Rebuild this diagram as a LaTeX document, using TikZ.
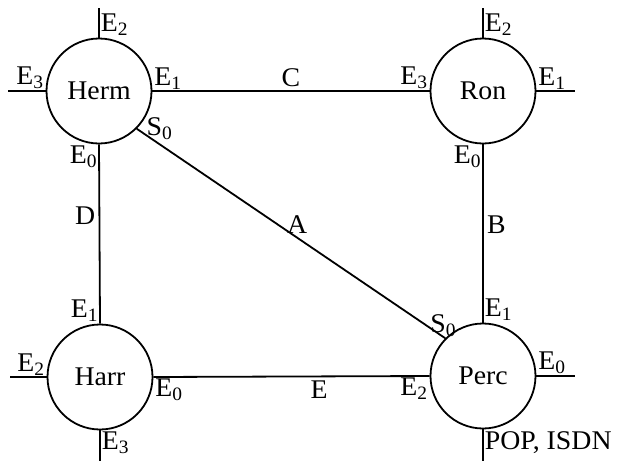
\documentclass[tikz,border=0pt]{standalone}
\usepackage{fontspec}
\setmainfont{Liberation Serif}[FakeStretch=1.03]
\usepackage{tikz}

\tikzset{site/.style={circle,draw,minimum size=105pt,inner sep=0pt},
         port/.style={inner sep=1pt}}

\begin{document}
\begin{tikzpicture}[x=1pt,y=-1pt,line width=1.8pt,
    font=\fontsize{27}{30}\selectfont]
    \useasboundingbox (0,0) rectangle (623,461);

    \node[site] (herm) at (99,91) {Herm};
    \node[site] (ron) at (483,91) {Ron};
    \node[site] (harr) at (100,377) {Harr};
    \node[site] (perc) at (483,376) {Perc};

    % free ends of the stubs
    \coordinate (hermtop) at (99,8);
    \coordinate (hermleft) at (8,91);
    \coordinate (rontop) at (483,8);
    \coordinate (ronright) at (575,91);
    \coordinate (harrleft) at (10,377);
    \coordinate (harrbot) at (100,461);
    \coordinate (percright) at (575,376);
    \coordinate (percbot) at (483,461);

    \draw (herm.north) -- (hermtop);
    \draw (herm.west) -- (hermleft);
    \draw (ron.north) -- (rontop);
    \draw (ron.east) -- (ronright);
    \draw (harr.west) -- (harrleft);
    \draw (harr.south) -- (harrbot);
    \draw (perc.east) -- (percright);
    \draw (perc.south) -- (percbot);

    \draw (herm.east) -- node[above] (labC) {C} (ron.west);
    \draw (herm.south) -- node[left,pos=0.4] (labD) {D} (harr.north);
    \draw (herm.-45) -- node[above,pos=0.52] (labA) {A} (perc.135);
    \draw (ron.south) -- node[right,pos=0.45] (labB) {B} (perc.north);
    \draw (harr.east) -- node[below,pos=0.6] (labE) {E} (perc.west);

    % port names
    \node[port,anchor=south west] (hermE2) at (herm.north) {E\textsubscript{2}};
    \node[port,anchor=south east] (hermE3) at (herm.west) {E\textsubscript{3}};
    \node[port,anchor=south west] (hermE1) at (herm.east) {E\textsubscript{1}};
    \node[port,anchor=north east] (hermE0) at (herm.south) {E\textsubscript{0}};
    \node[port,anchor=west,xshift=8pt] (hermS0) at (herm.-45) {S\textsubscript{0}};

    \node[port,anchor=south west] (ronE2) at (ron.north) {E\textsubscript{2}};
    \node[port,anchor=south east] (ronE3) at (ron.west) {E\textsubscript{3}};
    \node[port,anchor=south west] (ronE1) at (ron.east) {E\textsubscript{1}};
    \node[port,anchor=north east] (ronE0) at (ron.south) {E\textsubscript{0}};

    \node[port,anchor=south east] (harrE1) at (harr.north) {E\textsubscript{1}};
    \node[port,anchor=south east] (harrE2) at (harr.west) {E\textsubscript{2}};
    \node[port,anchor=north west] (harrE0) at (harr.east) {E\textsubscript{0}};
    \node[port,anchor=north west] (harrE3) at (harr.south) {E\textsubscript{3}};

    \node[port,anchor=south,xshift=-2pt] (percS0) at (perc.135) {S\textsubscript{0}};
    \node[port,anchor=south west] (percE1) at (perc.north) {E\textsubscript{1}};
    \node[port,anchor=south west] (percE0) at (perc.east) {E\textsubscript{0}};
    \node[port,anchor=north east] (percE2) at (perc.west) {E\textsubscript{2}};
    \node[port,anchor=north west] (percpop) at (perc.south) {POP, ISDN};
\end{tikzpicture}
\end{document}
